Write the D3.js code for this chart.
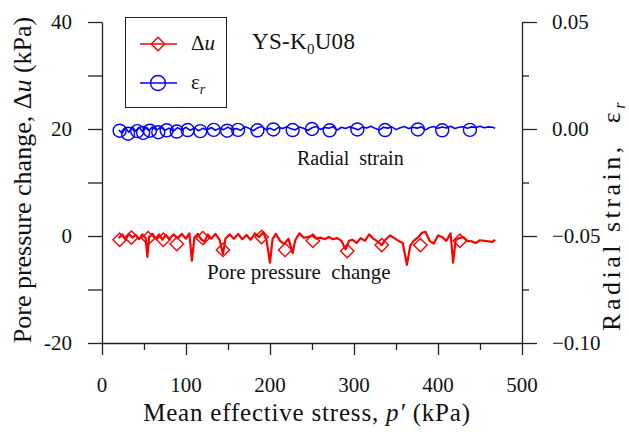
<!DOCTYPE html>
<html>
<head>
<meta charset="utf-8">
<script src="https://cdn.jsdelivr.net/npm/d3@7"></script>
<style>
  body { margin: 0; background: #fff; }
  svg text { font-family: "Liberation Serif", "DejaVu Serif", serif; fill: #111; white-space: pre; }
  .axis path, .axis line { stroke: #222; stroke-width: 1.3; }
</style>
</head>
<body>
<script>
// mean effective stress p' (kPa) along the test
var pLine = [20,24,28,32,36,40,44,48,52,54,56,60,64,68,72,76,80,85,90,95,100,104,107,110,114,118,122,126,130,135,
  140,144,147,152,157,162,167,172,177,182,187,192,196,200,203,207,212,217,222,227,230,235,240,245,250,255,260,265,270,275,
  280,285,290,294,298,303,308,313,318,323,328,333,338,343,348,353,358,363,367,371,376,381,385,390,395,400,405,410,415,418,
  421,425,430,435,440,445,450,455,460,465,468];

// pore pressure change (kPa)
var duLine = [-0.4,0.3,-0.7,0.4,-0.3,0.2,-0.6,0.3,-0.4,-3.9,-0.2,0.4,-0.5,0.3,-0.7,0.2,-0.6,0.3,-0.4,0.4,-0.5,0.5,-4.6,-0.3,0.4,-0.6,-1.1,0.3,-0.5,0.4,
  -0.7,-3.4,-0.5,0.3,-0.5,0.4,-0.6,0.2,-0.7,0.5,-0.2,0.7,-0.9,-5.0,-0.6,0.4,-0.9,-1.5,-0.5,-3.2,-0.8,0.5,-0.3,-0.2,0.1,-0.5,-0.3,-0.6,-0.2,-0.6,
  -0.4,-0.9,-2.5,-0.9,-0.7,-1.3,-0.4,-0.9,0.3,-0.5,-1.0,-1.7,-0.6,0.1,-0.4,-0.9,-1.3,-5.4,-1.8,-0.9,-0.3,0.6,0.8,-0.9,-1.4,0.1,-0.2,-0.9,0.5,-5.0,
  -0.8,-0.4,-0.2,-0.9,-1.0,-1.3,-0.8,-0.9,-1.0,-1.1,-0.7];

// radial strain
var pStrain = [20,24,28,32,36,40,44,48,52,56,60,65,70,75,80,85,90,95,100,105,110,115,120,125,130,135,140,145,150,155,
  160,165,170,175,180,185,190,195,200,205,210,215,220,225,230,235,240,245,250,255,260,265,270,275,280,285,290,295,300,305,
  310,315,320,325,330,335,340,345,350,355,360,365,370,375,380,385,390,395,400,405,410,415,420,425,430,435,440,445,450,455,
  460,465,468];
var erLine = [-0.0005,-0.0020,0.0005,-0.0015,0.0010,-0.0010,0.0008,-0.0012,0.0005,-0.0008,0.0010,-0.0005,0.0008,-0.0006,0.0004,-0.0010,0.0006,-0.0004,0.0008,-0.0006,
  0.0005,-0.0008,0.0003,-0.0005,0.0007,-0.0006,0.0004,-0.0003,0.0009,-0.0004,0.0002,-0.0006,0.0010,0.0003,-0.0008,0.0005,0.0012,-0.0003,0.0004,-0.0006,
  0.0008,0.0002,0.0010,0.0001,-0.0004,0.0009,0.0003,-0.0007,0.0006,0.0012,-0.0002,0.0007,0.0004,0.0011,-0.0005,0.0008,0.0002,0.0010,0.0004,-0.0004,
  0.0009,0.0005,0.0013,0.0003,-0.0005,0.0008,0.0004,0.0010,-0.0003,0.0006,0.0012,0.0002,0.0008,0.0004,0.0010,-0.0004,0.0007,0.0012,0.0003,0.0009,
  0.0005,0.0013,0.0002,0.0008,0.0011,0.0004,0.0010,0.0007,0.0013,0.0006,0.0010,0.0008,0.0003];

// marker points
var pDiamond = [21,35,55,73,89,120,144,190,218,251,292,333,379,426];
var duDiamond = [-0.7,-0.3,-0.4,-0.7,-1.5,-0.4,-2.6,-0.2,-2.6,-0.9,-2.8,-1.7,-1.7,-0.9];
var pCircle = [21,31,42,49,57,67,77,89,102,117,133,149,162,185,204,227,250,271,304,337,376,405,438];
var erCircle = [-0.0008,-0.0022,-0.0010,-0.0018,-0.0008,-0.0015,-0.0006,-0.0012,-0.0005,-0.0010,-0.0004,-0.0008,-0.0004,-0.0006,-0.0002,-0.0005,0.0000,-0.0006,-0.0002,-0.0005,-0.0002,-0.0006,-0.0004];

var xTicks = [0,100,200,300,400,500];
var yLeftTicks = [-20,0,20,40];
var yRightTicks = [-0.10,-0.05,0.00,0.05];

var width = 629, height = 432;
var mLeft = 102, mRight = 522, mTop = 22, mBottom = 343;

var svg = d3.select("body").append("svg")
    .attr("width", width)
    .attr("height", height)
    .attr("font-family", "'Liberation Serif', 'DejaVu Serif', serif");

var x = d3.scaleLinear().domain([0, 500]).range([mLeft, mRight]);
var yL = d3.scaleLinear().domain([-20, 40]).range([mBottom, mTop]);
var yR = d3.scaleLinear().domain([-0.10, 0.05]).range([mBottom, mTop]);

// axes
var xAxis = svg.append("g").attr("class", "axis")
    .attr("transform", "translate(0," + mBottom + ")")
    .call(d3.axisBottom(x).tickValues(d3.range(0, 501, 50)).tickSize(12).tickSizeOuter(0).tickFormat(""));
xAxis.selectAll(".tick line").attr("y2", function(d) { return d % 100 ? 7 : 12; });
svg.append("g").selectAll("text").data(xTicks).join("text")
    .attr("x", d => x(d)).attr("y", 392)
    .attr("text-anchor", "middle").attr("font-size", 21)
    .text(d => d);

svg.append("g").attr("class", "axis")
    .attr("transform", "translate(" + mLeft + ",0)")
    .call(d3.axisLeft(yL).tickValues(d3.range(-20, 41, 10)).tickSize(14).tickSizeOuter(0).tickFormat(""));
svg.append("g").selectAll("text").data(yLeftTicks).join("text")
    .attr("x", 72).attr("y", d => yL(d) + 7)
    .attr("text-anchor", "end").attr("font-size", 21)
    .text(d => d);

var rAxis = svg.append("g").attr("class", "axis")
    .attr("transform", "translate(" + mRight + ",0)")
    .call(d3.axisRight(yR).tickValues([-0.1,-0.075,-0.05,-0.025,0,0.025,0.05]).tickSize(15).tickSizeOuter(0).tickFormat(""));
rAxis.selectAll(".tick line").attr("x2", function(d, i) { return i % 2 ? 7 : 15; });
svg.append("g").selectAll("text").data(yRightTicks).join("text")
    .attr("x", 552).attr("y", d => yR(d) + 7)
    .attr("font-size", 21)
    .text(d => d3.format(".2f")(d));

// axis titles
var xt = svg.append("text").attr("x", 307).attr("y", 421)
    .attr("text-anchor", "middle").attr("font-size", 25).attr("letter-spacing", 0.8);
xt.append("tspan").text("Mean effective stress, ");
xt.append("tspan").attr("font-style", "italic").text("p\u2032");
xt.append("tspan").text(" (kPa)");

var lt = svg.append("text").attr("transform", "translate(31,180) rotate(-90)")
    .attr("text-anchor", "middle").attr("font-size", 26);
lt.append("tspan").text("Pore pressure change, \u0394");
lt.append("tspan").attr("font-style", "italic").text("u");
lt.append("tspan").text(" (kPa)");

var rt = svg.append("text").attr("transform", "translate(620,215) rotate(-90)")
    .attr("text-anchor", "middle").attr("font-size", 26).attr("letter-spacing", 3.5);
rt.append("tspan").text("Radial strain,  \u03b5");
rt.append("tspan").attr("font-style", "italic").attr("font-size", 16).attr("dy", 5).text("r");

// lines
var lineDu = d3.line().x(d => x(d[0])).y(d => yL(d[1]));
var lineEr = d3.line().x(d => x(d[0])).y(d => yR(d[1]));

svg.append("path")
    .datum(d3.zip(pLine, duLine))
    .attr("fill", "none").attr("stroke", "#ff0000").attr("stroke-width", 2.2)
    .attr("stroke-linejoin", "round")
    .attr("d", lineDu);

svg.append("path")
    .datum(d3.zip(pStrain, erLine))
    .attr("fill", "none").attr("stroke", "#0000ff").attr("stroke-width", 1.6)
    .attr("stroke-linejoin", "round")
    .attr("d", lineEr);

var diamond = d3.symbol().type(d3.symbolSquare).size(90);

svg.append("g").selectAll("path").data(d3.zip(pDiamond, duDiamond)).join("path")
    .attr("d", diamond)
    .attr("transform", d => "translate(" + x(d[0]) + "," + yL(d[1]) + ") rotate(45)")
    .attr("fill", "none").attr("stroke", "#ff0000").attr("stroke-width", 1.4);

svg.append("g").selectAll("circle").data(d3.zip(pCircle, erCircle)).join("circle")
    .attr("cx", d => x(d[0])).attr("cy", d => yR(d[1])).attr("r", 6.5)
    .attr("fill", "none").attr("stroke", "#0000ff").attr("stroke-width", 1.4);

// annotations
svg.append("text").attr("x", 297).attr("y", 165).attr("font-size", 20).text("Radial  strain");
svg.append("text").attr("x", 207).attr("y", 279).attr("font-size", 21).text("Pore pressure  change");

var tag = svg.append("text").attr("x", 252).attr("y", 49).attr("font-size", 23).attr("letter-spacing", 0.3);
tag.append("tspan").text("YS-K");
tag.append("tspan").attr("font-size", 15).attr("dy", 5).text("0");
tag.append("tspan").attr("dy", -5).text("U08");

// legend
var legend = svg.append("g");
legend.append("rect").attr("x", 125.5).attr("y", 17.5).attr("width", 101).attr("height", 90)
    .attr("fill", "#fff").attr("stroke", "#222").attr("stroke-width", 1);

legend.append("line").attr("x1", 140).attr("x2", 177).attr("y1", 44).attr("y2", 44)
    .attr("stroke", "#ff0000").attr("stroke-width", 1.6);
legend.append("path").attr("d", diamond)
    .attr("transform", "translate(158,44) rotate(45)")
    .attr("fill", "none").attr("stroke", "#ff0000").attr("stroke-width", 1.4);
var l1 = legend.append("text").attr("x", 191).attr("y", 50).attr("font-size", 21);
l1.append("tspan").text("\u0394");
l1.append("tspan").attr("font-style", "italic").text("u");

legend.append("line").attr("x1", 140).attr("x2", 177).attr("y1", 83).attr("y2", 83)
    .attr("stroke", "#0000ff").attr("stroke-width", 1.6);
legend.append("circle").attr("cx", 158).attr("cy", 83).attr("r", 7.5)
    .attr("fill", "none").attr("stroke", "#0000ff").attr("stroke-width", 1.4);
var l2 = legend.append("text").attr("x", 191).attr("y", 89).attr("font-size", 21);
l2.append("tspan").text("\u03b5");
l2.append("tspan").attr("font-style", "italic").attr("font-size", 14).attr("dy", 5).text("r");
</script>
</body>
</html>
